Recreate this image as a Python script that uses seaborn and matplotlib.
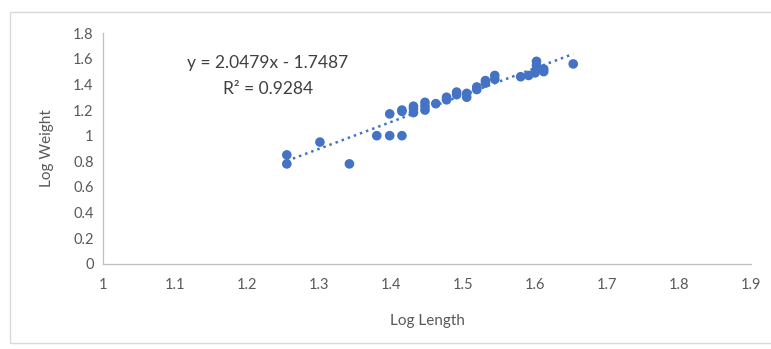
import numpy as np
import pandas as pd
import matplotlib
matplotlib.use("Agg")
import matplotlib.pyplot as plt
import seaborn as sns
from matplotlib.patches import Rectangle

log_length = [1.255, 1.255, 1.301, 1.342, 1.380, 1.398, 1.415, 1.398, 1.415, 1.415,
              1.431, 1.431, 1.431, 1.447, 1.447, 1.447, 1.462, 1.477, 1.477, 1.491,
              1.491, 1.505, 1.505, 1.519, 1.519, 1.531, 1.531, 1.544, 1.544, 1.580,
              1.591, 1.600, 1.602, 1.602, 1.602, 1.612, 1.612, 1.653]
log_weight = [0.85, 0.78, 0.95, 0.78, 1.00, 1.00, 1.00, 1.17, 1.19, 1.20,
              1.18, 1.21, 1.23, 1.20, 1.23, 1.26, 1.25, 1.28, 1.30, 1.32,
              1.34, 1.30, 1.33, 1.36, 1.38, 1.41, 1.43, 1.44, 1.47, 1.46,
              1.47, 1.49, 1.52, 1.55, 1.58, 1.50, 1.52, 1.56]
equation_text = "y = 2.0479x - 1.7487"
r2_text = "R² = 0.9284"
x_ticks = [1, 1.1, 1.2, 1.3, 1.4, 1.5, 1.6, 1.7, 1.8, 1.9]
y_ticks = [0, 0.2, 0.4, 0.6, 0.8, 1, 1.2, 1.4, 1.6, 1.8]

df = pd.DataFrame({"Log Length": log_length, "Log Weight": log_weight})

sns.set_theme(style="white")
plt.rcParams['font.family'] = ['Lato', 'DejaVu Sans']

fig = plt.figure(figsize=(7.71, 3.49), dpi=100)
ax = fig.add_axes([0.134, 0.244, 0.840, 0.661])
fig.patches.append(Rectangle((0.013, 0.017), 0.99, 0.95, transform=fig.transFigure,
                             fill=False, edgecolor="#d9d9d9", linewidth=1.0))

blue = "#4472C4"
sns.regplot(data=df, x="Log Length", y="Log Weight", ax=ax, ci=None,
            scatter_kws=dict(s=48, color=blue, edgecolor="none", alpha=1),
            line_kws=dict(color=blue, linestyle=(0, (1, 1.6)), linewidth=1.8))

ax.set_xlim(1, 1.9)
ax.set_ylim(0, 1.8)
ax.set_xticks(x_ticks)
ax.set_yticks(y_ticks)
ax.set_xticklabels([f"{t:g}" for t in x_ticks])
ax.set_yticklabels([f"{t:g}" for t in y_ticks])
ax.tick_params(axis="both", colors="#bfbfbf", labelcolor="#595959", labelsize=10.5,
               length=4, width=0.8, direction="out")
ax.tick_params(axis="x", pad=6)
ax.tick_params(axis="y", pad=3)
for side in ["top", "right"]:
    ax.spines[side].set_visible(False)
for side in ["left", "bottom"]:
    ax.spines[side].set_color("#bfbfbf")
    ax.spines[side].set_linewidth(0.9)
ax.set_xlabel("Log Length", color="#595959", fontsize=11, labelpad=16)
ax.set_ylabel("Log Weight", color="#595959", fontsize=11, labelpad=14)
ax.grid(False)

ax.text(1.228, 1.57, equation_text, ha="center", va="center", fontsize=12.5, color="#404040")
ax.text(1.229, 1.367, r2_text, ha="center", va="center", fontsize=12.5, color="#404040")

fig.savefig("out.png", dpi=100, facecolor="white")
